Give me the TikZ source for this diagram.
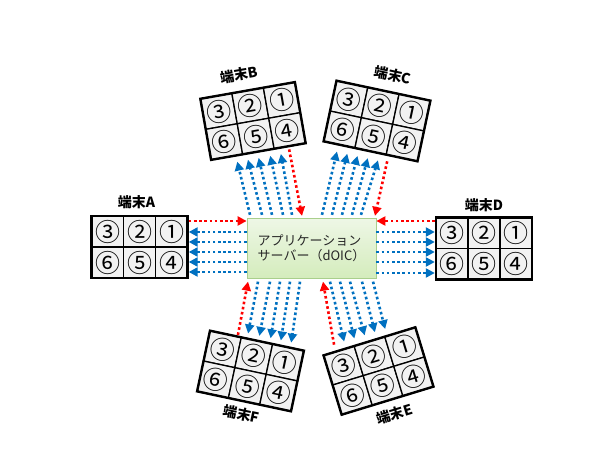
\documentclass[tikz,border=0pt]{standalone}
\usepackage{fontspec}
\newfontfamily\cjk{Noto Sans CJK JP}
\usetikzlibrary{arrows.meta,calc}
\definecolor{cellgray}{HTML}{F2F2F2}
\definecolor{arrred}{HTML}{FF0000}
\definecolor{arrblue}{HTML}{0070C0}
\definecolor{srvtop}{HTML}{EEF7E6}
\definecolor{srvbot}{HTML}{D4ECBC}
\definecolor{srvline}{HTML}{A9CF8C}
\newcommand\terminal[5]{%
  \begin{scope}[shift={#2},rotate=#3,transform shape]
    \node[cell] (#1-3) at (-32,-15.5) {③};
    \node[cell] (#1-2) at (0,-15.5) {②};
    \node[cell] (#1-1) at (32,-15.5) {①};
    \node[cell] (#1-6) at (-32,15.5) {⑥};
    \node[cell] (#1-5) at (0,15.5) {⑤};
    \node[cell] (#1-4) at (32,15.5) {④};
    \node[termbox] (#1) at (0,0) {};
    \node[termlabel] (#1-label) at #4 {#5};
  \end{scope}}
\begin{document}
\begin{tikzpicture}[x=1pt,y=-1pt,
  cell/.style={draw=black,line width=1.3pt,fill=cellgray,minimum width=32pt,minimum height=31pt,inner sep=0pt,text height=19.5pt,text depth=0pt,font=\cjk\fontsize{25}{25}\selectfont},
  termbox/.style={draw=black,line width=2.4pt,minimum width=96pt,minimum height=62pt,inner sep=0pt},
  termlabel/.style={font=\cjk\bfseries\fontsize{14}{14}\selectfont,inner sep=0pt},
  redarr/.style={draw=arrred,line width=2.6pt,dash pattern=on 2.6pt off 2.6pt,-{Triangle[length=9pt,width=9pt]}},
  bluearr/.style={draw=arrblue,line width=2.6pt,dash pattern=on 2.6pt off 2.6pt,-{Triangle[length=9pt,width=9pt]}},
  server/.style={draw=srvline,line width=0.8pt,top color=srvtop,bottom color=srvbot,minimum width=129pt,minimum height=60pt,align=left,font=\cjk\fontsize{13}{14.5}\selectfont,text=black!85}]
\useasboundingbox (0,0) rectangle (600,454);

\node[server] (srv) at (311.5,248.25) {アプリケーション\\サーバー（dOIC）};

\terminal{A}{(139.5,247)}{0}{(-3,-45)}{端末A}
\terminal{D}{(484,248.5)}{0}{(0,-43.5)}{端末D}
\terminal{B}{(253,121)}{10}{(-6,-48)}{端末B}
\terminal{C}{(377,121)}{-12}{(6,-48)}{端末C}
\terminal{F}{(250.5,371)}{-12}{(0,44)}{端末F}
\terminal{E}{(378.5,371)}{17}{(2.5,46)}{端末E}

% A
\draw[redarr] (A.east |- 0,221) -- (srv.west |- 0,221);
\foreach \yy in {232,242,252,262,272}
  \draw[bluearr] (srv.west |- 0,\yy) -- (A.east |- 0,\yy);
% D
\draw[redarr] (D.west |- 0,221) -- (srv.east |- 0,221);
\foreach \yy in {232,242,252,262,273}
  \draw[bluearr] (srv.east |- 0,\yy) -- (D.west |- 0,\yy);
% B
\foreach \sx/\fr in {250/0.27,262/0.38,272/0.49,283/0.61,292/0.72}
  \draw[bluearr] ($(\sx,0 |- srv.north)+(0,-3)$) -- ($(B.south west)!\fr!(B.south east)+(1,5)$);
\draw[redarr] ($(B.south west)!0.81!(B.south east)+(0.5,2)$) -- ($(302,0 |- srv.north)+(0,-2)$);
% C
\foreach \sx/\fr in {322/0.166,332/0.273,342/0.379,352/0.486,361/0.592}
  \draw[bluearr] ($(\sx,0 |- srv.north)+(0,-3)$) -- ($(C.south west)!\fr!(C.south east)+(-1.2,5.9)$);
\draw[redarr] ($(C.south west)!0.686!(C.south east)+(-1,5)$) -- ($(375,0 |- srv.north)+(0,-2)$);
% F
\foreach \sx/\fr in {258/0.397,270/0.514,280/0.631,290/0.738,300/0.845}
  \draw[bluearr] ($(\sx,0 |- srv.south)+(0,3)$) -- ($(F.north west)!\fr!(F.north east)+(0.8,-3.9)$);
\draw[redarr] ($(F.north west)!0.30!(F.north east)+(0,-0.5)$) -- ($(248,0 |- srv.south)+(0,3)$);
% E
\foreach \sx/\fr in {330/0.254,340/0.363,350/0.472,362/0.581,373/0.690}
  \draw[bluearr] ($(\sx,0 |- srv.south)+(0,3)$) -- ($(E.north west)!\fr!(E.north east)+(-1.8,-5.7)$);
\draw[redarr] ($(E.north west)!0.147!(E.north east)+(-1.8,-5.7)$) -- ($(323,0 |- srv.south)+(0,3)$);
\end{tikzpicture}
\end{document}
